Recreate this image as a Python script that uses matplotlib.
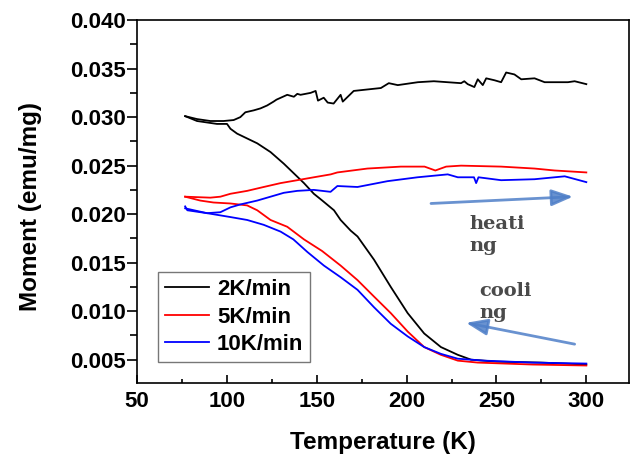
import matplotlib
matplotlib.use('Agg')
import matplotlib.pyplot as plt
from matplotlib.ticker import MultipleLocator, FormatStrFormatter

# values (T in K, moment in emu/mg)
rates = ['2K/min', '5K/min', '10K/min']
colors = ['black', 'red', 'blue']

bk_heat_T = [76.8, 83.4, 90.8, 98.2, 103.8, 107.5, 110.3, 115, 118.7, 122.4, 126, 127.6,
             133.6, 137.3, 139.2, 141, 146.6, 149.4, 150.7, 153.9, 156.1, 159.4, 163.3,
             164.5, 170.6, 185.7, 190.1, 195.1, 206.3, 215.2, 230.3, 232.1, 234, 237.7,
             239.6, 242.4, 244.3, 248.9, 252.6, 255.4, 260, 263.8, 271.2, 276.8, 289.8,
             293.5, 300]
bk_heat_M = [0.0301, 0.0298, 0.0296, 0.0296, 0.0297, 0.0300, 0.0305, 0.0307, 0.0309, 0.0312,
             0.0316, 0.0318, 0.0323, 0.0321, 0.0324, 0.0323, 0.0325, 0.0327, 0.0317, 0.0320,
             0.0315, 0.0314, 0.0323, 0.0316, 0.0327, 0.0330, 0.0335, 0.0333, 0.0336, 0.0337,
             0.0335, 0.0337, 0.0334, 0.0331, 0.0339, 0.0333, 0.0340, 0.0338, 0.0336, 0.0346,
             0.0344, 0.0339, 0.0340, 0.0336, 0.0336, 0.0337, 0.0334]
bk_cool_T = [76.8, 83.4, 94.5, 100.1, 102, 105.7, 111.3, 116.9, 124.3, 131.7, 137.3, 142.9,
             148.4, 153.1, 159.6, 163.3, 168.9, 172.7, 181.9, 191.2, 200.6, 209.8, 219.1,
             228.5, 235.9, 250, 275, 300]
bk_cool_M = [0.0301, 0.0296, 0.0293, 0.0293, 0.0288, 0.0283, 0.0278, 0.0273, 0.0264, 0.0252,
             0.0242, 0.0232, 0.0221, 0.0214, 0.0204, 0.0194, 0.0183, 0.0177, 0.0153, 0.0125,
             0.0098, 0.0077, 0.0063, 0.0055, 0.0050, 0.0048, 0.0047, 0.0045]

rd_heat_T = [76.8, 90.8, 96.4, 102, 111.3, 120.5, 129.9, 139.2, 148.4, 157.8, 161.5, 178.2,
             196.8, 210, 216, 222, 230.3, 252.6, 271.2, 282.4, 300]
rd_heat_M = [0.0218, 0.0217, 0.0218, 0.0221, 0.0224, 0.0228, 0.0232, 0.0235, 0.0238, 0.0241,
             0.0243, 0.0247, 0.0249, 0.0249, 0.0245, 0.0249, 0.0250, 0.0249, 0.0247, 0.0245,
             0.0243]
rd_cool_T = [76.8, 85.2, 92.6, 102, 111.3, 116.9, 124.3, 133.6, 142.9, 153, 163.3, 172.7,
             181.9, 191.2, 200.6, 209.8, 219.1, 228.5, 239.6, 270, 300]
rd_cool_M = [0.0218, 0.0214, 0.0212, 0.0211, 0.0209, 0.0204, 0.0194, 0.0187, 0.0174, 0.0162,
             0.0147, 0.0132, 0.0115, 0.0098, 0.0079, 0.0063, 0.0055, 0.0049, 0.0047, 0.0045,
             0.0044]

bl_heat_T = [76.8, 78, 89, 96.4, 102, 107.5, 116.9, 124.3, 131.7, 139.2, 148.4, 157.7, 161.5,
             172.7, 189.4, 206.1, 222.9, 228.5, 237.5, 238.7, 240, 252.6, 271.2, 288, 300]
bl_heat_M = [0.0208, 0.0204, 0.0201, 0.0202, 0.0207, 0.0210, 0.0214, 0.0218, 0.0222, 0.0224,
             0.0225, 0.0223, 0.0229, 0.0228, 0.0234, 0.0238, 0.0241, 0.0238, 0.0238, 0.0232,
             0.0238, 0.0235, 0.0236, 0.0239, 0.0233]
bl_cool_T = [76.8, 89, 102, 111.3, 120.5, 129.9, 137, 144.8, 154, 163.3, 172.7, 181.9, 191.2,
             200.6, 209.8, 219.1, 228.5, 243.3, 270, 300]
bl_cool_M = [0.0206, 0.0201, 0.0197, 0.0194, 0.0189, 0.0182, 0.0174, 0.0161, 0.0147, 0.0135,
             0.0122, 0.0104, 0.0087, 0.0074, 0.0063, 0.0056, 0.0051, 0.0049, 0.0047, 0.0046]

heat = [(bk_heat_T, bk_heat_M), (rd_heat_T, rd_heat_M), (bl_heat_T, bl_heat_M)]
cool = [(bk_cool_T, bk_cool_M), (rd_cool_T, rd_cool_M), (bl_cool_T, bl_cool_M)]

plt.rcParams['font.family'] = ['Liberation Sans', 'DejaVu Sans']
plt.rcParams['font.weight'] = 'bold'

fig = plt.figure(figsize=(6.33, 4.57), dpi=100)
ax = fig.add_axes([0.2164, 0.162, 0.778, 0.794])

for (th, mh), (tc, mc), c, lab in zip(heat, cool, colors, rates):
    ax.plot(th, mh, color=c, lw=1.3, label=lab)
    ax.plot(tc, mc, color=c, lw=1.3)

ax.set_xlim(50, 324)
ax.set_ylim(0.0026, 0.040)
ax.xaxis.set_major_locator(MultipleLocator(50))
ax.xaxis.set_minor_locator(MultipleLocator(25))
ax.yaxis.set_minor_locator(MultipleLocator(0.0025))
ax.yaxis.set_major_formatter(FormatStrFormatter('%.3f'))
ax.set_yticks([0.005, 0.010, 0.015, 0.020, 0.025, 0.030, 0.035, 0.040])

ax.tick_params(axis='x', which='major', direction='in', length=6, width=1.2, pad=6, labelsize=16)
ax.tick_params(axis='x', which='minor', direction='in', length=3, width=1.2)
ax.tick_params(axis='y', which='major', direction='out', length=7, width=1.2, pad=1, labelsize=16)
ax.tick_params(axis='y', which='minor', direction='out', length=5, width=1.2)
for s in ax.spines.values():
    s.set_linewidth(1.2)

ax.set_xlabel('Temperature (K)', fontsize=17.5, fontweight='bold')
ax.set_ylabel('Moment (emu/mg)', fontsize=17.5, fontweight='bold')
ax.xaxis.set_label_coords(0.5, -0.132)
ax.yaxis.set_label_coords(-0.193, 0.485)

leg = ax.legend(loc='lower left', bbox_to_anchor=(0.043, 0.058), borderaxespad=0,
                fontsize=16, frameon=True, fancybox=False, handlelength=2.0,
                handletextpad=0.35, labelspacing=0.3, borderpad=0.3)
leg.get_frame().set_edgecolor('#555555')
leg.get_frame().set_linewidth(1.0)

arrow_c = '#4f7fc8'
ax.annotate('', xy=(292.6, 0.0218), xytext=(213.6, 0.0211),
            arrowprops=dict(arrowstyle='-|>,head_length=1.3,head_width=0.5',
                            color=arrow_c, lw=2, alpha=0.85, mutation_scale=10,
                            shrinkA=0, shrinkB=0))
ax.annotate('', xy=(233.1, 0.0088), xytext=(293.5, 0.0066),
            arrowprops=dict(arrowstyle='-|>,head_length=1.3,head_width=0.5',
                            color=arrow_c, lw=2, alpha=0.85, mutation_scale=10,
                            shrinkA=0, shrinkB=0))

ax.text(234.7, 0.0199, 'heati\nng', family='DejaVu Serif', fontweight='bold',
        fontsize=14, color='#4a4a4a', va='top', ha='left', linespacing=1.25)
ax.text(240.3, 0.0130, 'cooli\nng', family='DejaVu Serif', fontweight='bold',
        fontsize=14, color='#4a4a4a', va='top', ha='left', linespacing=1.25)

fig.savefig('out.png', dpi=100)
